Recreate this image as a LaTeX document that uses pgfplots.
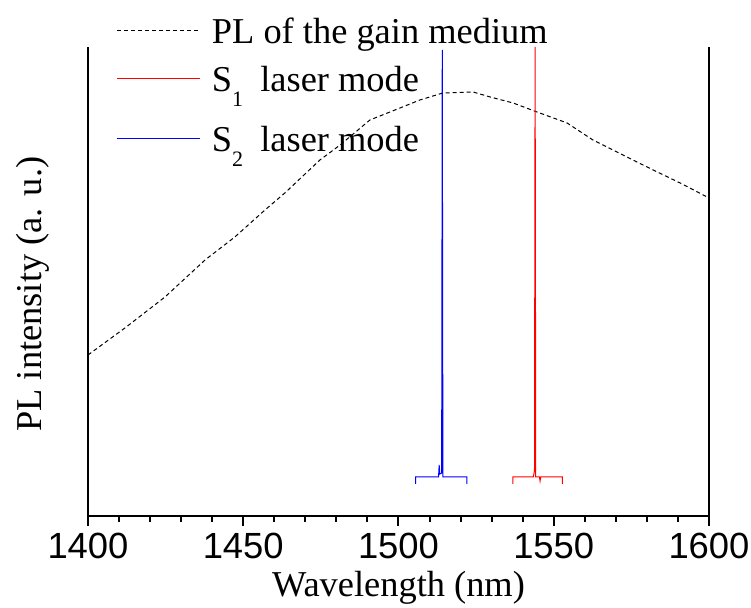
\documentclass[border=0pt]{standalone}
\usepackage{pgfplots}
\pgfplotsset{compat=1.18}
\usepackage{fontspec}
\setmainfont{Liberation Serif}
\newfontfamily\arial{Liberation Sans}
\newcommand\sub[1]{\raisebox{-7.5pt}{\fontsize{11}{11}\selectfont #1}}

\begin{document}
\begin{tikzpicture}
\useasboundingbox (-44pt,-46pt) rectangle (331.5pt,258pt);
\begin{axis}[
    scale only axis,
    width=310.5pt, height=234.5pt,
    xmin=1400, xmax=1600, ymin=0, ymax=469,
    axis x line*=bottom, axis y line*=box,
    axis line style={line width=1.2pt, -},
    xtick={1400,1450,...,1600},
    minor x tick num=4,
    ytick=\empty,
    tick align=outside,
    major tick length=5pt, minor tick length=3pt,
    every tick/.style={black, line width=1pt},
    xticklabel style={font=\fontsize{18.2}{20}\arial, /pgf/number format/assume math mode=true},
    /pgf/number format/set thousands separator={},
    xlabel={Wavelength (nm)},
    ylabel={PL intensity (a. u.)},
    label style={font=\fontsize{18.2}{20}\selectfont},
    xlabel style={at={(axis description cs:0.5,-0.153)}, anchor=center},
    ylabel style={at={(axis description cs:-0.0886,0.473)}, anchor=center},
    legend style={draw=none, fill=none, inner sep=0pt,
        at={(axis description cs:0.046,1.072)}, anchor=north west,
        font=\fontsize{18.2}{20}\selectfont,
        nodes={inner sep=2pt, text height=13pt, text depth=8pt}, row sep=2pt},
    legend cell align=left,
    legend image code/.code={\draw[#1] (0pt,4pt) -- (41.5pt,4pt);},
    clip=false
]
\addplot[black, line width=0.5pt, dash pattern=on 2pt off 1.5pt] coordinates {
    (1400,161) (1411.9,188) (1424.8,219) (1437.7,256) (1447.3,279)
    (1457.0,306) (1463.4,323) (1474.7,356) (1481.2,371) (1490.8,396)
    (1500.5,408) (1506.9,416) (1514.3,423) (1524.0,424) (1529.5,419)
    (1536.9,413) (1544.6,404) (1554.3,393) (1562.6,376) (1573.6,359)
    (1582.0,346) (1590.7,333) (1600,318)
};
\addlegendentry{\hspace{3.5pt}PL of the gain medium}
\addplot[red, line width=0.5pt, legend image post style={yshift=3pt}] coordinates {
    (1536.8,32) (1536.8,39) (1543.4,39) (1543.8,45) (1544.0,469)
    (1544.2,39) (1545.4,39) (1545.6,35) (1545.8,39) (1552.8,39) (1552.8,32)
};
\addlegendentry{\raisebox{3pt}{\hspace{3.5pt}S\sub{1}\hspace{4pt} laser mode}}
\addplot[blue, line width=0.5pt] coordinates {
    (1505.5,32) (1505.5,39) (1512.9,39) (1513.1,51) (1513.3,42)
    (1513.9,43) (1514.1,466) (1514.3,39) (1522.0,39) (1522.0,32)
};
\addlegendentry{\hspace{3.5pt}S\sub{2}\hspace{4pt} laser mode}
\end{axis}
\end{tikzpicture}
\end{document}
